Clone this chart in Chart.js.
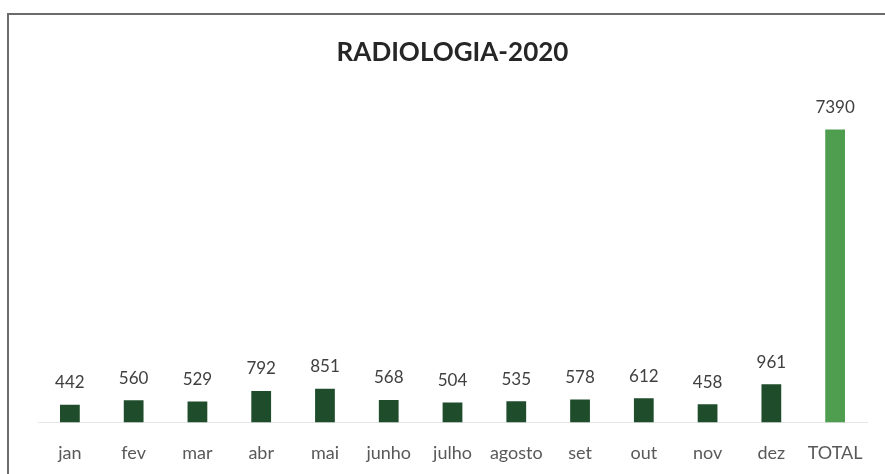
<!DOCTYPE html>
<html>
<head>
<meta charset="utf-8">
<script src="https://cdn.jsdelivr.net/npm/chart.js@4/dist/chart.umd.min.js"></script>
<style>
  html, body { margin: 0; padding: 0; background: #fff; overflow: hidden; }
  #wrap { position: relative; width: 885px; height: 474px; overflow: hidden; }
  #frame { position: absolute; left: 7px; top: 13px; width: 900px; height: 500px; border: 2px solid #6b6b6b; box-sizing: border-box; }
  canvas { position: absolute; left: 0; top: 0; }
</style>
</head>
<body>
<div id="wrap">
  <div id="frame"></div>
  <canvas id="c" width="885" height="490"></canvas>
</div>
<script>
const categories = ["jan", "fev", "mar", "abr", "mai", "junho", "julho", "agosto", "set", "out", "nov", "dez", "TOTAL"];
const values = [442, 560, 529, 792, 851, 568, 504, 535, 578, 612, 458, 961, 7390];
const titleText = "RADIOLOGIA-2020";

const barColors = values.map((v, i) => i === values.length - 1 ? "#4f9e4f" : "#1f4d2c");
const FONT = "Lato, 'Liberation Sans', sans-serif";

const valueLabels = {
  id: "valueLabels",
  afterDatasetsDraw(chart) {
    const ctx = chart.ctx;
    const meta = chart.getDatasetMeta(0);
    ctx.save();
    ctx.font = "17px " + FONT;
    ctx.fillStyle = "#404040";
    ctx.textAlign = "center";
    ctx.textBaseline = "middle";
    meta.data.forEach((bar, i) => {
      ctx.fillText(String(chart.data.datasets[0].data[i]), bar.x, bar.y - 22);
    });
    ctx.restore();
  }
};

new Chart(document.getElementById("c"), {
  type: "bar",
  data: {
    labels: categories,
    datasets: [{
      data: values,
      backgroundColor: barColors,
      barPercentage: 0.62,
      categoryPercentage: 0.5
    }]
  },
  options: {
    responsive: false,
    animation: false,
    devicePixelRatio: 1,
    layout: { padding: { left: 38, right: 18, top: 0, bottom: 6 } },
    plugins: {
      legend: { display: false },
      tooltip: { enabled: false },
      title: {
        display: true,
        text: titleText,
        color: "#262626",
        font: { family: FONT, size: 26, weight: "bold" },
        padding: { top: 37, bottom: 37 }
      }
    },
    scales: {
      x: {
        grid: { display: false, drawTicks: false },
        border: { display: true, color: "#e6e6e6", width: 1 },
        ticks: { color: "#595959", font: { family: FONT, size: 18 }, padding: 20 }
      },
      y: {
        display: false,
        min: 0,
        max: 8000
      }
    }
  },
  plugins: [valueLabels]
});
</script>
</body>
</html>
